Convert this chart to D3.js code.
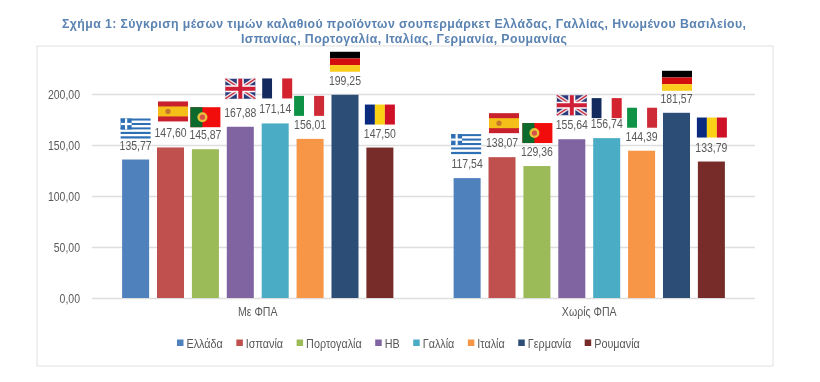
<!DOCTYPE html>
<html>
<head>
<meta charset="utf-8">
<script src="https://cdn.jsdelivr.net/npm/d3@7/dist/d3.min.js"></script>
<style>
  html, body { margin: 0; padding: 0; background: #fff; }
  svg { display: block; filter: blur(0.35px); }
  text { font-family: "Liberation Sans", Arial, sans-serif; }
</style>
</head>
<body>
<script>
const titleLines = [
  'Σχήμα 1: Σύγκριση μέσων τιμών καλαθιού προϊόντων σουπερμάρκετ Ελλάδας, Γαλλίας, Ηνωμένου Βασιλείου,',
  'Ισπανίας, Πορτογαλία, Ιταλίας, Γερμανία, Ρουμανίας'
]
const groups = ['Με ΦΠΑ', 'Χωρίς ΦΠΑ']
const countries = ['Ελλάδα', 'Ισπανία', 'Πορτογαλία', 'ΗΒ', 'Γαλλία', 'Ιταλία', 'Γερμανία', 'Ρουμανία']
const withVat = [135.77, 147.60, 145.87, 167.88, 171.14, 156.01, 199.25, 147.50]
const withoutVat = [117.54, 138.07, 129.36, 155.64, 156.74, 144.39, 181.57, 133.79]
const yTicks = [0, 50, 100, 150, 200]
const colors = ['#4f81bd', '#c0504d', '#9bbb59', '#8064a2', '#4bacc6', '#f79646', '#2c4d75', '#772c2a']
const flags = ['gr', 'es', 'pt', 'gb', 'fr', 'it', 'de', 'ro']

const width = 820
const height = 382
const plot = { left: 92, right: 755, top: 53, bottom: 298 }
const textColor = '#595959'
const fmt = v => v.toFixed(2).replace('.', ',')

// the flags were pasted by hand in the original, so each has its own nudge
const flagNudge = [
  [[0, 41], [2.5, 46], [0, 42], [0, 48], [2, 45], [-1, 43], [0, 43], [0, 43]],
  [[-1, 44], [2, 44], [0.5, 43], [0, 44], [0, 40], [0.5, 43], [0.5, 42], [0.5, 44]]
]

// reference text is narrower than Liberation Sans, squeeze it horizontally
function squeeze(sel, ratio) {
  sel.each(function () {
    const len = this.getComputedTextLength()
    d3.select(this)
      .attr('textLength', len * ratio)
      .attr('lengthAdjust', 'spacingAndGlyphs')
  })
}

const svg = d3.select('body')
  .append('svg')
  .attr('width', width)
  .attr('height', height)

const x0 = d3.scaleBand()
  .domain(groups)
  .range([plot.left, plot.right])
const x1 = d3.scaleBand()
  .domain(countries)
  .range([0, x0.bandwidth()])
  .paddingInner(0.226)
  .paddingOuter(0.863)
const y = d3.scaleLinear()
  .domain([0, 200])
  .range([plot.bottom, 94])

svg.append('rect')
  .attr('x', 37).attr('y', 46)
  .attr('width', 736).attr('height', 320)
  .attr('fill', '#fff')
  .attr('stroke', '#e0e0e0')
  .attr('stroke-width', 1)

svg.selectAll('.title')
  .data(titleLines)
  .join('text')
  .attr('class', 'title')
  .attr('x', 404)
  .attr('y', (d, i) => 28 + i * 15)
  .attr('text-anchor', 'middle')
  .attr('textLength', (d, i) => i === 0 ? 684 : 326)
  .attr('lengthAdjust', 'spacing')
  .attr('font-size', 12.3)
  .attr('font-weight', 'bold')
  .attr('fill', '#5a83b2')
  .text(d => d)

const yAxis = d3.axisLeft(y)
  .tickValues(yTicks)
  .tickFormat(fmt)
  .tickSize(-(plot.right - plot.left))
  .tickPadding(12)
svg.append('g')
  .attr('transform', `translate(${plot.left},0)`)
  .call(yAxis)
  .call(g => g.select('.domain').remove())
  .call(g => g.selectAll('line').attr('stroke', '#dedede').attr('stroke-width', 1.3))
  .call(g => g.selectAll('text')
    .attr('font-size', 12.8)
    .attr('fill', textColor)
    .call(squeeze, 0.82))

const xAxis = d3.axisBottom(x0).tickSize(0).tickPadding(9)
svg.append('g')
  .attr('transform', `translate(0,${plot.bottom})`)
  .call(xAxis)
  .call(g => g.select('.domain').remove())
  .call(g => g.selectAll('text')
    .attr('font-size', 12)
    .attr('fill', textColor)
    .call(squeeze, 0.88))

const flagDraw = {
  gr(g) {
    band(g, d3.range(9).map(i => i % 2 ? '#fff' : '#2f6fb5'), 'h')
    g.append('rect').attr('width', 11).attr('height', 11).attr('fill', '#2f6fb5')
    g.append('rect').attr('x', 4.4).attr('width', 2.2).attr('height', 11).attr('fill', '#fff')
    g.append('rect').attr('y', 4.4).attr('width', 11).attr('height', 2.2).attr('fill', '#fff')
  },
  es(g) {
    g.append('rect').attr('width', 30).attr('height', 20).attr('fill', '#c8202c')
    g.append('rect').attr('y', 5).attr('width', 30).attr('height', 10).attr('fill', '#f5bf1a')
    g.append('circle').attr('cx', 10).attr('cy', 10).attr('r', 2.6).attr('fill', '#c4762c')
  },
  pt(g) {
    g.append('rect').attr('width', 30).attr('height', 20).attr('fill', '#f20d0d')
    g.append('rect').attr('width', 12).attr('height', 20).attr('fill', '#0c6b2c')
    g.append('circle').attr('cx', 12).attr('cy', 10).attr('r', 5).attr('fill', '#e8c23a')
    g.append('circle').attr('cx', 12).attr('cy', 10).attr('r', 2.6).attr('fill', '#d8504a')
  },
  gb(g) {
    g.append('rect').attr('width', 30).attr('height', 20).attr('fill', '#2a3a7a')
    const diag = [[0, 0, 30, 20], [30, 0, 0, 20]]
    diag.forEach(d => {
      g.append('line').attr('x1', d[0]).attr('y1', d[1]).attr('x2', d[2]).attr('y2', d[3])
        .attr('stroke', '#e8dfe4').attr('stroke-width', 4)
      g.append('line').attr('x1', d[0]).attr('y1', d[1]).attr('x2', d[2]).attr('y2', d[3])
        .attr('stroke', '#c8283a').attr('stroke-width', 1.3)
    })
    g.append('rect').attr('x', 11.5).attr('width', 7).attr('height', 20).attr('fill', '#fff')
    g.append('rect').attr('y', 6.5).attr('width', 30).attr('height', 7).attr('fill', '#fff')
    g.append('rect').attr('x', 13).attr('width', 4).attr('height', 20).attr('fill', '#cf1f36')
    g.append('rect').attr('y', 8).attr('width', 30).attr('height', 4).attr('fill', '#cf1f36')
  },
  fr(g) { band(g, ['#14295e', '#fff', '#d2232f'], 'v') },
  it(g) { band(g, ['#0d9246', '#fff', '#ce2b37'], 'v') },
  de(g) { band(g, ['#000', '#d20e0e', '#fbcb1e'], 'h') },
  ro(g) { band(g, ['#0a2a80', '#fbd116', '#ce1126'], 'v') }
}

function band(g, cols, dir) {
  cols.forEach((c, i) => {
    const r = g.append('rect').attr('fill', c)
    if (dir === 'v') r.attr('x', i * 30 / cols.length).attr('width', 30 / cols.length).attr('height', 20)
    else r.attr('y', i * 20 / cols.length).attr('width', 30).attr('height', 20 / cols.length)
  })
}

const series = [withVat, withoutVat]
groups.forEach((group, gi) => {
  const g = svg.append('g').attr('transform', `translate(${x0(group)},0)`)
  const rows = countries.map((c, i) => ({ country: c, value: series[gi][i], i }))

  g.selectAll('.bar')
    .data(rows)
    .join('rect')
    .attr('class', 'bar')
    .attr('x', d => x1(d.country))
    .attr('y', d => y(d.value))
    .attr('width', x1.bandwidth())
    .attr('height', d => y(0) - y(d.value))
    .attr('fill', d => colors[d.i])

  // scale instead of textLength, these sit close together
  g.selectAll('.value')
    .data(rows)
    .join('text')
    .attr('class', 'value')
    .attr('transform', d => `translate(${x1(d.country) + x1.bandwidth() / 2},${y(d.value) - 10}) scale(0.82,1)`)
    .attr('text-anchor', 'middle')
    .attr('font-size', 12.8)
    .attr('fill', textColor)
    .text(d => fmt(d.value))

  rows.forEach(d => {
    const nudge = flagNudge[gi][d.i]
    const f = g.append('g')
      .attr('transform', `translate(${x1(d.country) + x1.bandwidth() / 2 - 15 + nudge[0]},${y(d.value) - nudge[1]})`)
    flagDraw[flags[d.i]](f)
  })
})

const legend = svg.append('g').attr('transform', 'translate(0,343)')
let lx = 177
countries.forEach((c, i) => {
  legend.append('rect')
    .attr('x', lx).attr('y', -3.5)
    .attr('width', 6.5).attr('height', 6.5)
    .attr('fill', colors[i])
  const t = legend.append('text')
    .attr('x', lx + 9.5).attr('y', 4.5)
    .attr('font-size', 12)
    .attr('fill', textColor)
    .text(c)
  const len = t.node().getComputedTextLength() * 0.9
  t.attr('textLength', len).attr('lengthAdjust', 'spacingAndGlyphs')
  lx += 9.5 + len + 13.5
})
</script>
</body>
</html>
